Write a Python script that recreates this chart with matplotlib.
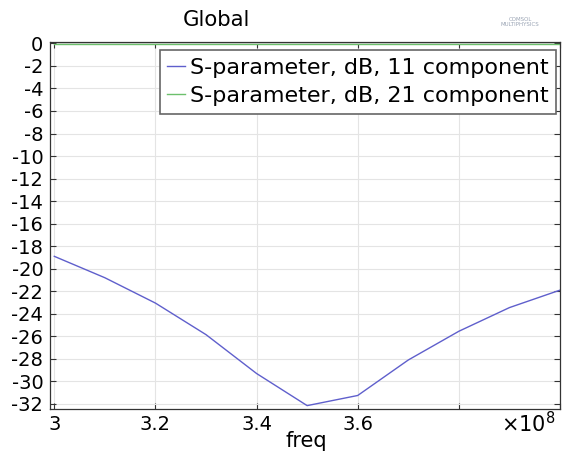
import matplotlib
matplotlib.use("Agg")
import matplotlib.pyplot as plt
import numpy as np

freq = [3.0e8, 3.1e8, 3.2e8, 3.3e8, 3.4e8, 3.5e8, 3.6e8, 3.7e8, 3.8e8, 3.9e8, 4.0e8]
s11 = [-18.9, -20.8, -23.05, -25.85, -29.3, -32.15, -31.25, -28.1, -25.55, -23.45, -21.9]
s21 = [-0.02, -0.02, -0.02, -0.02, -0.02, -0.02, -0.02, -0.02, -0.02, -0.02, -0.02]
labels = ["S-parameter, dB, 11 component", "S-parameter, dB, 21 component"]
xticks = [3.0e8, 3.2e8, 3.4e8, 3.6e8, 3.8e8, 4.0e8]
xticklabels = ["3", "3.2", "3.4", "3.6", "", ""]
yticks = list(range(0, -33, -2))

plt.rcParams['font.family'] = ['DejaVu Sans']
fs = 14
W, H = 565, 462
fig = plt.figure(figsize=(5.65, 4.62), dpi=100)
ax = fig.add_axes([50/W, 1-409/H, (560-50)/W, (409-41.7)/H])

ax.plot(freq, s11, color='#5f5fcc', lw=1.0, label=labels[0])
ax.plot(freq, s21, color='#6cc06c', lw=1.0, label=labels[1])

ax.set_xlim(2.9915e8, 4.0e8)
ax.set_ylim(-32.45, 0.15)
ax.set_xticks(xticks)
ax.set_xticklabels(xticklabels)
ax.set_yticks(yticks)
ax.set_yticklabels([str(t) for t in yticks])
ax.tick_params(direction='in', length=4, width=0.8, color='#333333',
               top=True, right=True, labelsize=fs)
ax.tick_params(axis='y', pad=4.8)
ax.tick_params(axis='x', pad=4)
ax.grid(True, color='#e4e4e4', lw=0.8)
ax.set_axisbelow(True)
for s in ax.spines.values():
    s.set_color('#333333')
    s.set_linewidth(0.9)

leg = ax.legend(loc='upper right', bbox_to_anchor=(556/W, 1-50/H),
                bbox_transform=fig.transFigure, fontsize=16, frameon=True,
                fancybox=False, shadow=False, handlelength=0.8,
                handletextpad=0.22, borderpad=0.34, labelspacing=0.38,
                borderaxespad=0.0, framealpha=1.0)
leg.get_frame().set_edgecolor('#666666')
leg.get_frame().set_linewidth(1.2)

fig.text(216/W, 1-20/H, "Global", ha='center', va='center', fontsize=15.3)
fig.text(306/W, 1-441/H, "freq", ha='center', va='center', fontsize=15)
fig.text(528/W, 1-424/H, r"$\times\mathregular{10^{8}}$", ha='center', va='center', fontsize=15)
fig.text(520/W, 1-22/H, "COMSOL\nMULTIPHYSICS", ha='center', va='center',
         fontsize=4, color='#9aa4b4', linespacing=0.9)

fig.savefig("out.png", dpi=100)
